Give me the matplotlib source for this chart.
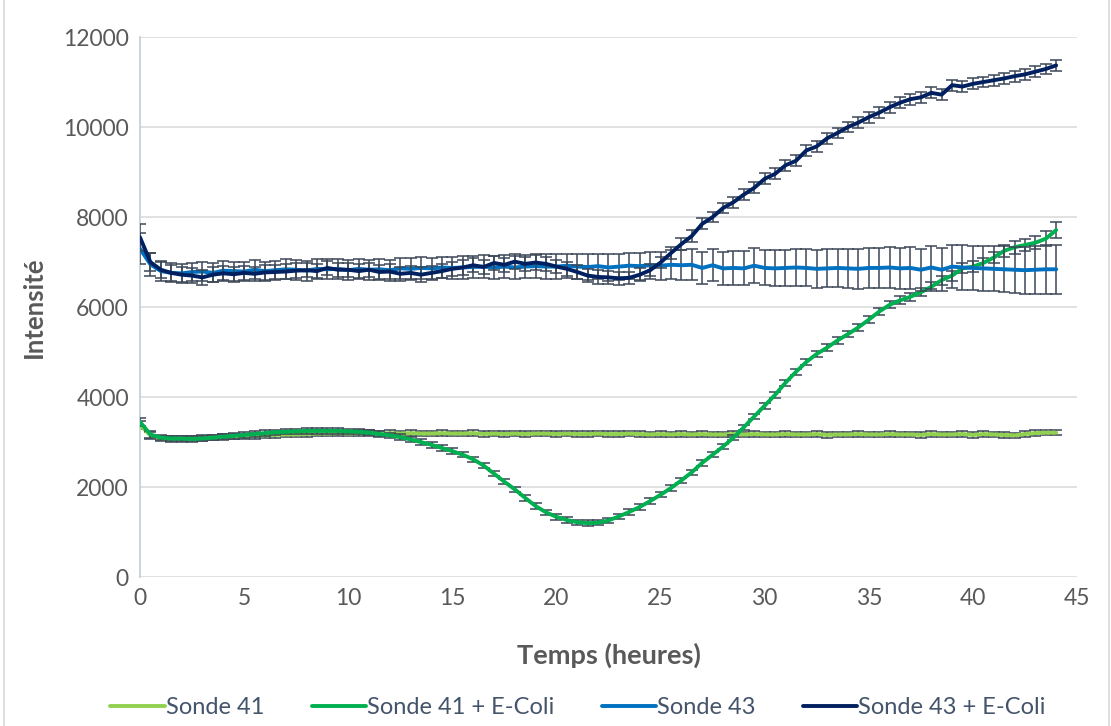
import numpy as np
import matplotlib.pyplot as plt
from matplotlib.patches import Rectangle

plt.rcParams['font.family'] = ['Lato', 'DejaVu Sans']

# temps en heures, un point toutes les 30 min
temps = np.arange(0, 44.01, 0.5)

sonde41 = [
    3380, 3150, 3080, 3070, 3070, 3080, 3090, 3100, 3110, 3120,
    3130, 3140, 3150, 3160, 3170, 3170, 3180, 3190, 3190, 3200,
    3190, 3200, 3200, 3190, 3200, 3190, 3200, 3190, 3190, 3200,
    3190, 3190, 3200, 3180, 3190, 3180, 3190, 3180, 3190, 3190,
    3180, 3190, 3180, 3180, 3190, 3180, 3180, 3190, 3180, 3170,
    3180, 3170, 3180, 3170, 3180, 3170, 3170, 3180, 3170, 3180,
    3170, 3170, 3180, 3170, 3170, 3180, 3160, 3170, 3170, 3180,
    3170, 3170, 3180, 3170, 3170, 3160, 3180, 3170, 3170, 3180,
    3160, 3180, 3170, 3160, 3150, 3180, 3200, 3210, 3210,
]
sonde41_err = [
    90, 70, 60, 60, 60, 60, 60, 60, 60, 60,
    60, 60, 60, 60, 60, 60, 60, 60, 60, 60,
    60, 60, 60, 60, 60, 60, 60, 60, 60, 60,
    60, 60, 60, 60, 60, 60, 60, 60, 60, 60,
    60, 60, 60, 60, 60, 60, 60, 60, 60, 60,
    60, 60, 60, 60, 60, 60, 60, 60, 60, 60,
    60, 60, 60, 60, 60, 60, 60, 60, 60, 60,
    60, 60, 60, 60, 60, 60, 60, 60, 60, 60,
    60, 60, 60, 60, 60, 60, 60, 60, 60,
]

sonde41_ecoli = [
    3450, 3170, 3100, 3080, 3080, 3070, 3080, 3100, 3120, 3140,
    3160, 3180, 3200, 3220, 3230, 3240, 3250, 3250, 3250, 3250,
    3240, 3230, 3210, 3180, 3150, 3110, 3060, 3000, 2940, 2870,
    2800, 2720, 2620, 2480, 2300, 2120, 1950, 1760, 1580, 1440,
    1340, 1270, 1220, 1200, 1210, 1260, 1350, 1450, 1560, 1690,
    1830, 1980, 2150, 2330, 2540, 2720, 2900, 3100, 3330, 3570,
    3810, 4050, 4320, 4560, 4780, 4960, 5100, 5260, 5400, 5550,
    5720, 5900, 6050, 6150, 6230, 6330, 6450, 6600, 6700, 6860,
    6900, 6980, 7100, 7250, 7330, 7380, 7430, 7520, 7710,
]
sonde41_ecoli_err = [
    90, 70, 60, 60, 60, 60, 60, 60, 60, 60,
    60, 60, 60, 60, 60, 60, 60, 60, 60, 60,
    60, 60, 60, 60, 60, 60, 60, 60, 60, 60,
    60, 60, 60, 60, 60, 60, 60, 60, 60, 60,
    60, 60, 60, 60, 60, 60, 60, 60, 60, 60,
    60, 60, 60, 60, 60, 60, 60, 60, 60, 60,
    70, 70, 70, 70, 70, 70, 70, 70, 70, 80,
    80, 80, 80, 90, 90, 90, 100, 100, 110, 110,
    120, 120, 130, 130, 140, 140, 150, 160, 170,
]

sonde43 = [
    7300, 6950, 6800, 6760, 6750, 6780, 6790, 6760, 6810, 6800,
    6790, 6830, 6800, 6820, 6840, 6830, 6810, 6850, 6840, 6850,
    6820, 6850, 6830, 6840, 6820, 6860, 6850, 6870, 6860, 6880,
    6870, 6880, 6890, 6900, 6880, 6900, 6880, 6900, 6910, 6900,
    6900, 6920, 6900, 6890, 6910, 6880, 6900, 6920, 6910, 6930,
    6920, 6940, 6930, 6940, 6870, 6930, 6860, 6870, 6860, 6920,
    6870, 6860, 6870, 6880, 6870, 6850, 6860, 6870, 6860, 6850,
    6870, 6870, 6880, 6860, 6870, 6830, 6880, 6830, 6900, 6880,
    6870, 6860, 6850, 6840, 6830, 6820, 6830, 6840, 6840,
]
sonde43_err = [
    350, 260, 220, 210, 210, 210, 210, 210, 210, 210,
    210, 210, 210, 210, 220, 220, 220, 220, 220, 220,
    220, 220, 220, 230, 230, 230, 230, 240, 240, 240,
    240, 250, 250, 250, 250, 260, 260, 260, 260, 270,
    270, 270, 280, 280, 280, 290, 290, 290, 300, 300,
    310, 320, 330, 340, 350, 360, 370, 380, 380, 390,
    390, 400, 400, 410, 410, 420, 420, 430, 430, 440,
    440, 450, 450, 460, 460, 470, 470, 480, 480, 490,
    490, 500, 500, 510, 510, 520, 530, 540, 540,
]

sonde43_ecoli = [
    7550, 7000, 6830, 6760, 6720, 6700, 6660, 6720, 6750, 6730,
    6760, 6740, 6770, 6780, 6790, 6810, 6820, 6800, 6870, 6830,
    6830, 6800, 6830, 6780, 6790, 6740, 6760, 6720, 6760, 6800,
    6850, 6880, 6930, 6890, 6980, 6940, 7010, 6960, 6990, 6960,
    6900, 6850, 6780, 6700, 6670, 6660, 6640, 6650, 6720, 6820,
    6990, 7200, 7400, 7580, 7850, 8000, 8200, 8330, 8500, 8650,
    8850, 8960, 9150, 9250, 9480, 9570, 9750, 9870, 10000, 10100,
    10220, 10320, 10440, 10540, 10620, 10660, 10760, 10720, 10930, 10900,
    10960, 11000, 11040, 11080, 11130, 11170, 11230, 11290, 11370,
]
sonde43_ecoli_err = [
    300, 200, 180, 170, 170, 170, 170, 170, 170, 170,
    160, 160, 160, 160, 160, 160, 160, 160, 160, 160,
    160, 160, 160, 160, 160, 160, 160, 160, 160, 160,
    160, 160, 160, 160, 160, 160, 160, 160, 160, 160,
    150, 150, 150, 150, 150, 150, 150, 140, 140, 140,
    130, 130, 130, 130, 120, 120, 120, 120, 120, 120,
    120, 120, 120, 120, 120, 120, 120, 120, 120, 120,
    120, 120, 120, 120, 120, 120, 120, 120, 120, 120,
    120, 120, 120, 120, 120, 120, 120, 120, 120,
]

series = [
    ("Sonde 41", sonde41, sonde41_err, "#92D050"),
    ("Sonde 41 + E-Coli", sonde41_ecoli, sonde41_ecoli_err, "#00B050"),
    ("Sonde 43", sonde43, sonde43_err, "#0070C0"),
    ("Sonde 43 + E-Coli", sonde43_ecoli, sonde43_ecoli_err, "#002060"),
]

texte = "#595959"

fig = plt.figure(figsize=(11.11, 7.26), dpi=100)
ax = fig.add_axes([0.126, 0.205, 0.8434, 0.744])

for i, (nom, y, err, col) in enumerate(series):
    ax.errorbar(temps, y, yerr=err, fmt="none", ecolor="#3B4656",
                elinewidth=1.1, capsize=4.5, capthick=1.1, zorder=2 + 2 * i)
    ax.plot(temps, y, color=col, lw=2.8, label=nom, zorder=3 + 2 * i,
            solid_capstyle="round")

ax.set_xlim(0, 45)
ax.set_ylim(0, 12000)
ax.set_xticks(range(0, 46, 5))
ax.set_yticks(range(0, 12001, 2000))
ax.grid(axis="y", color="#D9D9D9", lw=1.1)
ax.set_axisbelow(True)
for s in ["top", "right", "bottom"]:
    ax.spines[s].set_visible(False)
ax.spines["left"].set_color("#C9D0DC")
ax.spines["left"].set_linewidth(1.3)
ax.tick_params(length=0, labelsize=16.5, labelcolor=texte, pad=8)

ax.set_xlabel("Temps (heures)", fontsize=19.5, fontweight="bold", color=texte, labelpad=24)
ax.set_ylabel("Intensité", fontsize=18.5, fontweight="bold", color=texte, labelpad=12)

ax.legend(loc="upper center", bbox_to_anchor=(0.4675, -0.183), ncol=4, frameon=False,
          fontsize=17, labelcolor="#44546A", handlelength=2.3, handletextpad=0.05,
          columnspacing=2.0)

fig.patches.append(Rectangle((0.004, -0.01), 0.994, 1.02, transform=fig.transFigure,
                             fill=False, edgecolor="#D9D9D9", lw=1.2))

fig.savefig("out.png", dpi=100)
